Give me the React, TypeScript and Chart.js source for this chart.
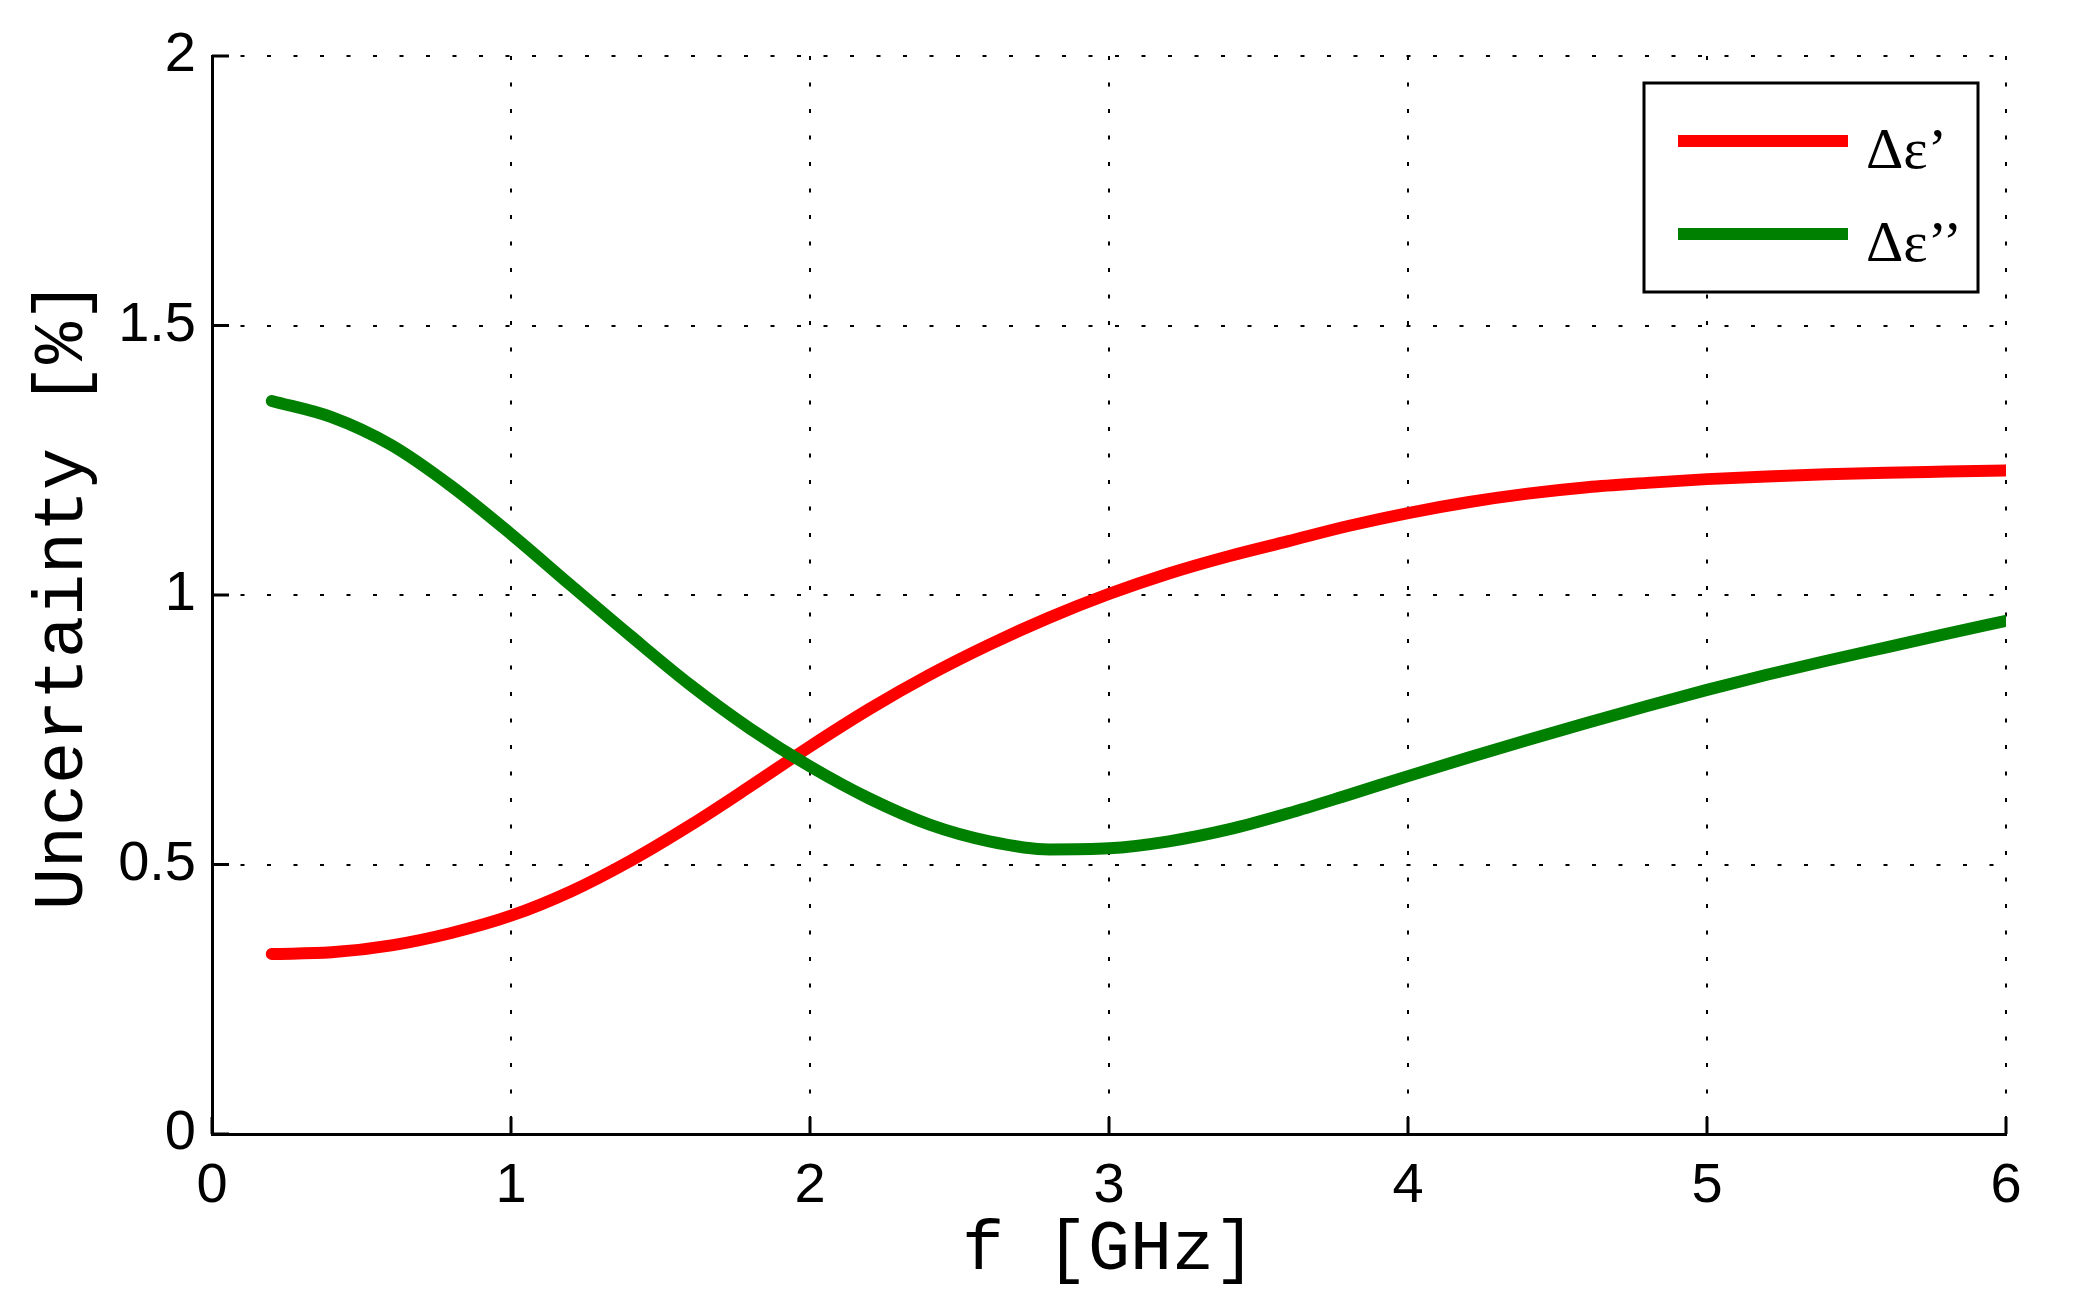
import React, { useEffect, useRef } from "react";
import { Chart, registerables } from "chart.js";

Chart.register(...registerables);

// ---- data ----
const freqGHz = [
  0.2, 0.4, 0.6, 0.8, 1.0, 1.2, 1.4, 1.6, 1.8, 2.0,
  2.2, 2.4, 2.6, 2.8, 3.0, 3.2, 3.4, 3.6, 3.8, 4.0,
  4.2, 4.4, 4.6, 4.8, 5.0, 5.2, 5.4, 5.6, 5.8, 6.0,
];
const deltaEpsReal = [
  0.334, 0.337, 0.350, 0.373, 0.405, 0.450, 0.507, 0.573, 0.645, 0.719,
  0.789, 0.852, 0.908, 0.958, 1.002, 1.040, 1.072, 1.100, 1.128, 1.152,
  1.172, 1.188, 1.200, 1.208, 1.215, 1.220, 1.224, 1.227, 1.229, 1.231,
];
const deltaEpsImag = [
  1.360, 1.330, 1.278, 1.202, 1.113, 1.018, 0.924, 0.833, 0.752, 0.682,
  0.622, 0.574, 0.543, 0.528, 0.530, 0.543, 0.565, 0.595, 0.629, 0.664,
  0.698, 0.731, 0.763, 0.794, 0.824, 0.852, 0.878, 0.903, 0.928, 0.952,
];
const xTicks = [0, 1, 2, 3, 4, 5, 6];
const yTicks = [0, 0.5, 1, 1.5, 2];
const seriesLabels = ["Δε’", "Δε’’"];
const seriesColors = ["#ff0000", "#008000"];
const xTitle = "f [GHz]";
const yTitle = "Uncertainty [%]";

const inwardTicks = {
  id: "inwardTicks",
  afterDraw(chart: any) {
    const { ctx, chartArea, scales } = chart;
    const len = 17;
    ctx.save();
    ctx.strokeStyle = "#000";
    ctx.lineWidth = 3;
    ctx.setLineDash([]);
    ctx.beginPath();
    for (const v of xTicks) {
      const px = scales.x.getPixelForValue(v);
      ctx.moveTo(px, chartArea.bottom);
      ctx.lineTo(px, chartArea.bottom - len);
    }
    for (const v of yTicks) {
      const py = scales.y.getPixelForValue(v);
      ctx.moveTo(chartArea.left, py);
      ctx.lineTo(chartArea.left + len, py);
    }
    ctx.stroke();
    ctx.restore();
  },
};

const boxLegend = {
  id: "boxLegend",
  afterDraw(chart: any) {
    const { ctx, chartArea } = chart;
    const w = 334;
    const h = 209;
    const right = chartArea.right - 28;
    const top = chartArea.top + 27;
    const left = right - w;
    ctx.save();
    ctx.fillStyle = "#fff";
    ctx.fillRect(left, top, w, h);
    ctx.strokeStyle = "#000";
    ctx.lineWidth = 3;
    ctx.setLineDash([]);
    ctx.strokeRect(left, top, w, h);
    const rows = [top + 58, top + 151];
    chart.data.datasets.forEach((ds: any, i: number) => {
      const y = rows[i];
      ctx.strokeStyle = ds.borderColor;
      ctx.lineWidth = 12;
      ctx.lineCap = "butt";
      ctx.beginPath();
      ctx.moveTo(left + 34, y);
      ctx.lineTo(left + 204, y);
      ctx.stroke();
      ctx.fillStyle = "#000";
      ctx.font = "normal 400 58px 'Liberation Serif', serif";
      ctx.textAlign = "left";
      ctx.textBaseline = "alphabetic";
      ctx.fillText(ds.label, left + 222, y + 27);
    });
    ctx.restore();
  },
};

export default function App() {
  const ref = useRef<HTMLCanvasElement | null>(null);

  useEffect(() => {
    document.body.style.margin = "0";
    const canvas = ref.current;
    if (!canvas) return;
    const chart = new Chart(canvas, {
      type: "line",
      data: {
        datasets: [
          {
            label: seriesLabels[0],
            data: freqGHz.map((f, i) => ({ x: f, y: deltaEpsReal[i] })),
            borderColor: seriesColors[0],
            backgroundColor: seriesColors[0],
            borderWidth: 12,
            pointRadius: 0,
            cubicInterpolationMode: "monotone",
            borderCapStyle: "round",
            borderJoinStyle: "round",
            fill: false,
            order: 1,
            clip: { left: 20, right: 0, top: 20, bottom: 20 },
          },
          {
            label: seriesLabels[1],
            data: freqGHz.map((f, i) => ({ x: f, y: deltaEpsImag[i] })),
            borderColor: seriesColors[1],
            backgroundColor: seriesColors[1],
            borderWidth: 12,
            pointRadius: 0,
            cubicInterpolationMode: "monotone",
            borderCapStyle: "round",
            borderJoinStyle: "round",
            fill: false,
            order: 0,
            clip: { left: 20, right: 0, top: 20, bottom: 20 },
          },
        ],
      },
      options: {
        responsive: false,
        animation: false,
        devicePixelRatio: 1,
        layout: { padding: { top: 56, right: 73, left: 0, bottom: 0 } },
        plugins: {
          legend: { display: false },
          tooltip: { enabled: false },
        },
        scales: {
          x: {
            type: "linear",
            min: 0,
            max: 6,
            afterBuildTicks: (s: any) => {
              s.ticks = xTicks.map((v) => ({ value: v }));
            },
            afterFit: (s: any) => {
              s.height = 165;
            },
            grid: {
              color: "#000",
              lineWidth: 2,
              drawTicks: false,
            },
            border: { display: true, color: "#000", width: 3, dash: [4, 22.5] },
            ticks: {
              color: "#000",
              padding: 19,
              maxRotation: 0,
              autoSkip: false,
              callback: (v: any) => String(v),
              font: { family: "'Liberation Sans', Arial, sans-serif", size: 56 },
            },
            title: {
              display: true,
              text: xTitle,
              color: "#000",
              font: { family: "'Liberation Mono', monospace", size: 70 },
              padding: { top: 0, bottom: 7 },
            },
          },
          y: {
            type: "linear",
            min: 0,
            max: 2,
            afterBuildTicks: (s: any) => {
              s.ticks = yTicks.map((v) => ({ value: v }));
            },
            afterFit: (s: any) => {
              s.width = 212;
            },
            grid: {
              color: "#000",
              lineWidth: 2,
              drawTicks: false,
            },
            border: { display: true, color: "#000", width: 3, dash: [4, 22.5] },
            ticks: {
              color: "#000",
              padding: 16,
              autoSkip: false,
              callback: (v: any) => String(v),
              font: { family: "'Liberation Sans', Arial, sans-serif", size: 56 },
            },
            title: {
              display: true,
              text: yTitle,
              color: "#000",
              font: { family: "'Liberation Mono', monospace", size: 70 },
              padding: { top: 21, bottom: 0 },
            },
          },
        },
      },
      plugins: [inwardTicks, boxLegend],
    } as any);
    return () => chart.destroy();
  }, []);

  return (
    <div style={{ width: 2079, height: 1299, background: "#fff" }}>
      <canvas ref={ref} width={2079} height={1299} style={{ display: "block" }} />
    </div>
  );
}
